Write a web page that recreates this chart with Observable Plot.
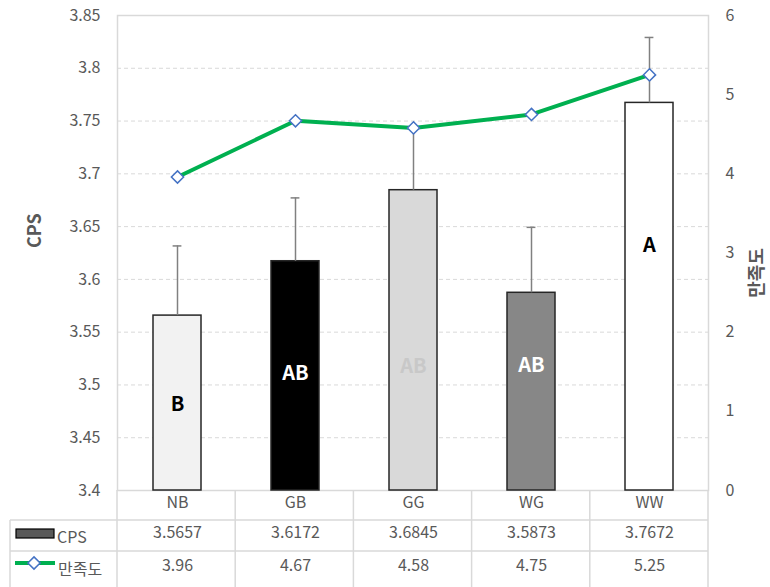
<!DOCTYPE html>
<html><head><meta charset="utf-8">
<script src="https://cdn.jsdelivr.net/npm/d3@7"></script>
<script src="https://cdn.jsdelivr.net/npm/@observablehq/plot@0.6"></script>
<style>body{margin:0;background:#fff} #chart{width:770px;height:587px}</style>
</head><body><div id="chart"></div>
<script>
const categories = ["NB","GB","GG","WG","WW"];
const cps = [3.5657,3.6172,3.6845,3.5873,3.7672];
const cpsError = [0.066,0.060,0.060,0.062,0.062];
const satisfaction = [3.96,4.67,4.58,4.75,5.25];
const groupLabels = ["B","AB","AB","AB","A"];
const groupLabelY = [3.481,3.511,3.517,3.518,3.632];
const barFills = ["#f2f2f2","#000000","#d9d9d9","#878787","#ffffff"];
const labelColors = ["#000000","#ffffff","#c8c8c8","#ffffff","#000000"];
const cpsTicks = [3.4,3.45,3.5,3.55,3.6,3.65,3.7,3.75,3.8,3.85];
const satTicks = [0,1,2,3,4,5,6];
const cpsTable = ["3.5657","3.6172","3.6845","3.5873","3.7672"];
const satTable = ["3.96","4.67","4.58","4.75","5.25"];

(function () {
const cpsMin = 3.4, cpsMax = 3.85, satMax = 6;
const toCPS = s => cpsMin + s * (cpsMax - cpsMin) / satMax;
const fromCPS = v => (v - cpsMin) * satMax / (cpsMax - cpsMin);

const rows = categories.map((c, i) => ({
  c, cps: cps[i], err: cpsError[i], sat: satisfaction[i], satY: toCPS(satisfaction[i]),
  label: groupLabels[i], labelY: groupLabelY[i], fill: barFills[i], lc: labelColors[i],
  cpsText: cpsTable[i], satText: satTable[i]
}));

const FONT = "'Noto Sans CJK KR','Noto Sans',sans-serif";
const GRAY = "#595959";
const FS = 16;

const plot = Plot.plot({
  width: 770, height: 587,
  marginTop: 15, marginBottom: 97, marginLeft: 117, marginRight: 62,
  style: {fontFamily: FONT, fontSize: FS + "px", background: "white", overflow: "visible"},
  x: {domain: categories, padding: 0, axis: null},
  y: {domain: [cpsMin, cpsMax], axis: null, label: null},
  color: {type: "identity"},
  marks: [
    Plot.ruleY(cpsTicks.slice(1, -1), {stroke: "#d9d9d9", strokeDasharray: "4,3", strokeWidth: 1}),
    Plot.frame({stroke: "#d9d9d9", strokeWidth: 1.5}),
    Plot.axisY(cpsTicks, {anchor: "left", label: null, tickSize: 0, tickPadding: 17,
      tickFormat: d => String(d), color: GRAY, fontSize: FS}),
    Plot.axisY(satTicks.map(toCPS), {anchor: "right", label: null, tickSize: 0, tickPadding: 17,
      tickFormat: d => String(Math.round(fromCPS(d))), color: GRAY, fontSize: FS}),
    Plot.text(["CPS"], {frameAnchor: "left", text: d => d, rotate: -90, dx: -82, dy: -5,
      fill: GRAY, fontWeight: "bold", fontSize: 18}),
    Plot.text(["만족도"], {frameAnchor: "right", text: d => d, rotate: -90, dx: 49, dy: -5,
      fill: GRAY, fontWeight: "bold", fontSize: 18}),
    Plot.barY(rows, {x: "c", y1: cpsMin, y2: "cps", fill: "fill", stroke: "#262626",
      strokeWidth: 1.5, insetLeft: 35, insetRight: 35}),
    Plot.ruleX(rows, {x: "c", y1: "cps", y2: d => d.cps + d.err, stroke: "#808080", strokeWidth: 1.5}),
    Plot.tickY(rows, {x: "c", y: d => d.cps + d.err, stroke: "#808080", strokeWidth: 1.5,
      insetLeft: 54.6, insetRight: 54.6}),
    Plot.text(rows, {x: "c", y: "labelY", text: "label", fill: "lc", fontWeight: "bold", fontSize: 20}),
    Plot.line(rows, {x: "c", y: "satY", stroke: "#00b050", strokeWidth: 4}),
    Plot.dot(rows, {x: "c", y: "satY", symbol: "diamond2", r: 5.5, fill: "white",
      stroke: "#4472c4", strokeWidth: 1.5}),
    // data table rows
    Plot.text(rows, {x: "c", text: "c", frameAnchor: "bottom", dy: 17, fill: GRAY, fontSize: FS}),
    Plot.text(rows, {x: "c", text: "cpsText", frameAnchor: "bottom", dy: 47, fill: GRAY, fontSize: FS}),
    Plot.text(rows, {x: "c", text: "satText", frameAnchor: "bottom", dy: 80, fill: GRAY, fontSize: FS})
  ]
});
document.getElementById("chart").appendChild(plot);

// table grid and legend keys, positioned from the x scale
const xs = plot.scale("x");
const x0 = xs.range[0], x1 = xs.range[1];
const step = (x1 - x0) / xs.domain.length;
const svg = d3.select(plot);
const g = svg.append("g").attr("stroke", "#d9d9d9").attr("stroke-width", 1.5);
const tableTop = 490, tableBottom = 587, tableLeft = 10;
[520, 551].forEach(y => g.append("line").attr("x1", tableLeft).attr("x2", x1).attr("y1", y).attr("y2", y));
g.append("line").attr("x1", tableLeft).attr("x2", tableLeft).attr("y1", 520).attr("y2", tableBottom);
for (let i = 0; i <= xs.domain.length; i++) {
  const x = x0 + i * step;
  g.append("line").attr("x1", x).attr("x2", x).attr("y1", tableTop).attr("y2", tableBottom);
}
const lg = svg.append("g").attr("font-family", FONT).attr("font-size", FS).attr("fill", GRAY)
  .attr("text-anchor", "start");
lg.append("rect").attr("x", 16).attr("y", 529).attr("width", 38).attr("height", 9)
  .attr("fill", "#595959").attr("stroke", "#000").attr("stroke-width", 1.2);
lg.append("text").attr("x", 57).attr("y", 537).attr("dy", "0.35em").text("CPS");
lg.append("line").attr("x1", 15).attr("x2", 55).attr("y1", 563).attr("y2", 563)
  .attr("stroke", "#00b050").attr("stroke-width", 4);
lg.append("path").attr("d", d3.symbol(d3.symbolDiamond2, 95)())
  .attr("transform", "translate(34,563)").attr("fill", "white").attr("stroke", "#4472c4").attr("stroke-width", 1.5);
lg.append("text").attr("x", 58).attr("y", 569).attr("dy", "0.35em").text("만족도");
})();
</script></body></html>
